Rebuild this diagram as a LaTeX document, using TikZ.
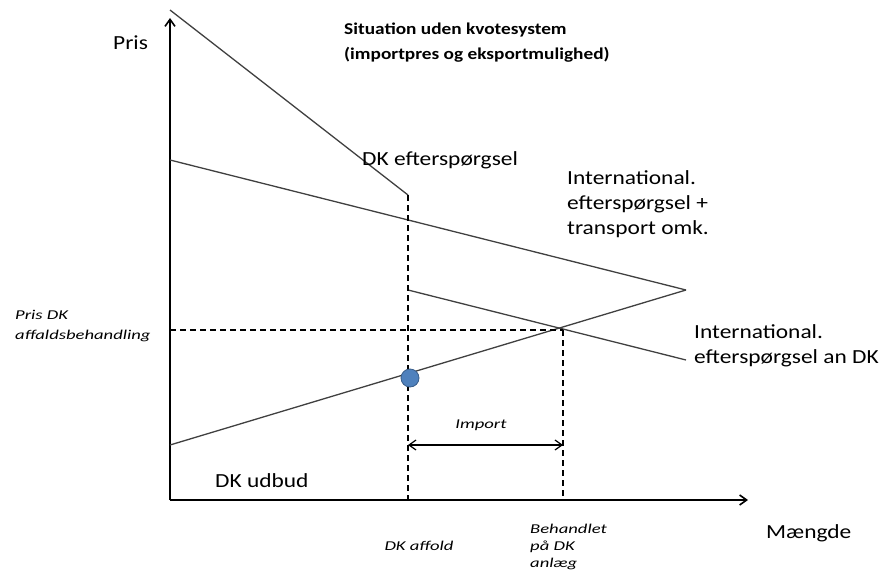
\documentclass[tikz,border=0pt]{standalone}
\usepackage{fontspec}
\setmainfont{Carlito}[FakeStretch=1.17]
\newfontfamily\notefont{Carlito}[FakeStretch=1.38]
\usetikzlibrary{arrows.meta,positioning,calc}
\definecolor{lineGrey}{HTML}{404040}
\definecolor{dotBlue}{HTML}{4F81BD}
\definecolor{dotEdge}{HTML}{385D8A}

\begin{document}
\begin{tikzpicture}[
  x=1pt, y=-1pt,
  font=\fontsize{20}{25}\selectfont,
  >={Straight Barb[length=7pt,width=10pt]},
  axis/.style={->, line width=1.6pt, black},
  curve/.style={lineGrey, line width=1.3pt},
  guide/.style={black, line width=1.2pt, dash pattern=on 6pt off 4pt},
  label/.style={inner sep=0pt, align=left},
  small/.style={inner sep=0pt, align=left, font=\notefont\fontsize{13.5}{17}\selectfont\itshape},
]
\useasboundingbox (0,0) rectangle (886,578);
% axes
\coordinate (O) at (170,500);
\coordinate (ytop) at (170,18);
\coordinate (xend) at (748,500);
\draw[axis] (O) -- (ytop);
\draw[axis] (O) -- (xend);
% key points
\coordinate (dtop) at (170,10);
\coordinate (dkink) at (408,195);
\coordinate (dfoot) at (408,500);
\coordinate (itop) at (170,160);
\coordinate (iend) at (686,290);
\coordinate (sstart) at (170,445);
\coordinate (ajump) at (408,290);
\coordinate (aend) at (686,360);
\coordinate (eq) at (563,330);
\coordinate (eqleft) at (170,330);
\coordinate (eqfoot) at (563,500);
% curves
\draw[curve] (dtop) -- (dkink);
\draw[curve] (itop) -- (iend);
\draw[curve] (sstart) -- (iend);
\draw[curve] (ajump) -- (aend);
% guides
\draw[guide] (dkink) -- (dfoot);
\draw[guide] (eqleft) -- (eq);
\draw[guide] (eq) -- (eqfoot);
% import
\coordinate (impL) at (408,445);
\coordinate (impR) at (563,445);
\draw[<->, black, line width=1.2pt] (impL) -- (impR);
\node[small] (imp) at (481,425) {Import};
% DK amount dot
\node[circle, fill=dotBlue, draw=dotEdge, line width=0.8pt, minimum size=18pt, inner sep=0pt] (dot) at (410,378) {};
% labels
\node[label, anchor=west] (pris) at (113,43) {Pris};
\node[label, anchor=west] (maengde) at (766,533) {Mængde};
\node[label, anchor=west, font=\fontsize{16.5}{25}\selectfont\bfseries] (title) at (344,43) {Situation uden kvotesystem\\(importpres og eksportmulighed)};
\node[label, anchor=west] (dkdem) at (362,160) {DK efterspørgsel};
\node[label, anchor=north west] (intdem) at (567,170) {International.\\efterspørgsel +\\transport omk.};
\node[label, anchor=north west] (intdk) at (694,324) {International.\\efterspørgsel an DK};
\node[label, anchor=west] (dksup) at (215,481) {DK udbud};
\node[small, anchor=north west, font=\notefont\fontsize{13.5}{20}\selectfont\itshape] (prisdk) at (15,310) {Pris DK\\affaldsbehandling};
\node[small] (dkaff) at (419,546) {DK affold};
\node[small, anchor=north west] (behand) at (530,524) {Behandlet\\på DK\\anlæg};
\end{tikzpicture}
\end{document}
